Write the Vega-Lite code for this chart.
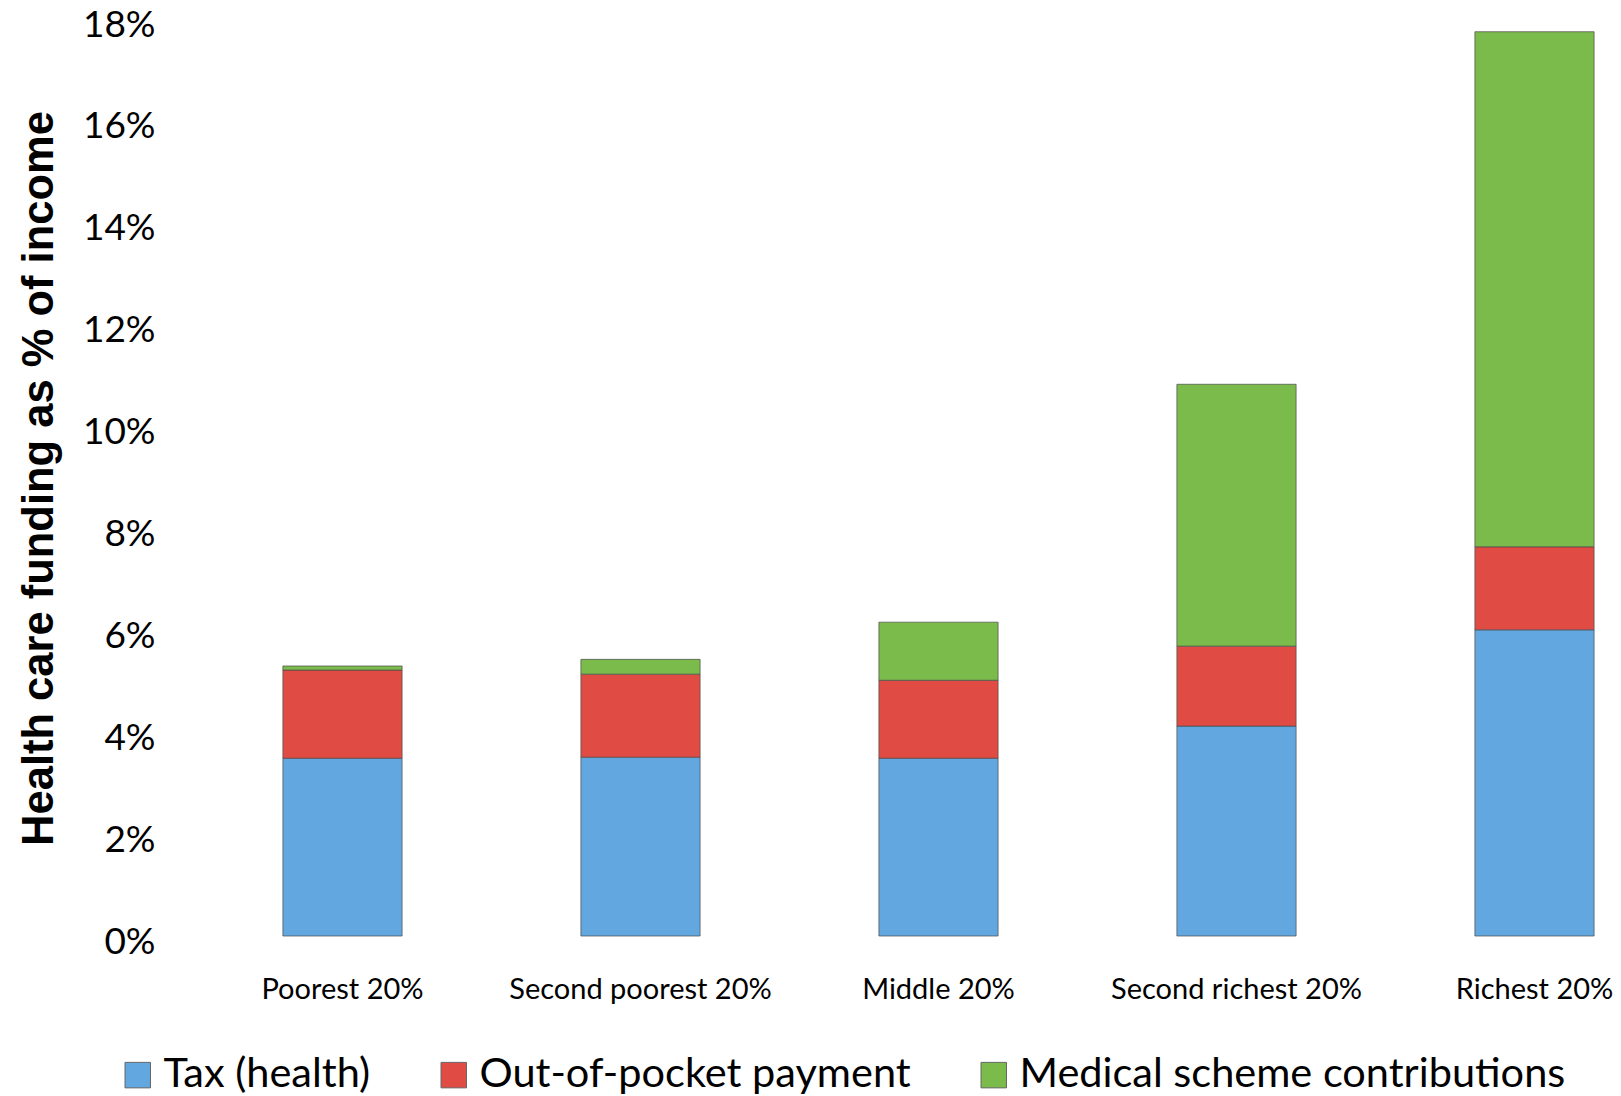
{
  "$schema": "https://vega.github.io/schema/vega-lite/v6.json",
  "width": 1341,
  "height": 917,
  "autosize": "none",
  "padding": {"left": 268, "top": 19, "right": 12, "bottom": 160},
  "background": "white",
  "data": {
    "values": [
      {"group": "Poorest 20%", "source": "Tax (health)", "order": 1, "value": 3.49},
      {"group": "Poorest 20%", "source": "Out-of-pocket payment", "order": 2, "value": 1.73},
      {"group": "Poorest 20%", "source": "Medical scheme contributions", "order": 3, "value": 0.08},
      {"group": "Second poorest 20%", "source": "Tax (health)", "order": 1, "value": 3.51},
      {"group": "Second poorest 20%", "source": "Out-of-pocket payment", "order": 2, "value": 1.63},
      {"group": "Second poorest 20%", "source": "Medical scheme contributions", "order": 3, "value": 0.29},
      {"group": "Middle 20%", "source": "Tax (health)", "order": 1, "value": 3.49},
      {"group": "Middle 20%", "source": "Out-of-pocket payment", "order": 2, "value": 1.53},
      {"group": "Middle 20%", "source": "Medical scheme contributions", "order": 3, "value": 1.14},
      {"group": "Second richest 20%", "source": "Tax (health)", "order": 1, "value": 4.12},
      {"group": "Second richest 20%", "source": "Out-of-pocket payment", "order": 2, "value": 1.57},
      {"group": "Second richest 20%", "source": "Medical scheme contributions", "order": 3, "value": 5.14},
      {"group": "Richest 20%", "source": "Tax (health)", "order": 1, "value": 6.01},
      {"group": "Richest 20%", "source": "Out-of-pocket payment", "order": 2, "value": 1.63},
      {"group": "Richest 20%", "source": "Medical scheme contributions", "order": 3, "value": 10.11}
    ]
  },
  "mark": {"type": "bar", "stroke": "#4a4a4a", "strokeWidth": 1, "strokeOpacity": 0.7},
  "encoding": {
    "x": {
      "field": "group",
      "type": "nominal",
      "sort": ["Poorest 20%", "Second poorest 20%", "Middle 20%", "Second richest 20%", "Richest 20%"],
      "scale": {"paddingInner": 0.6, "paddingOuter": 0.05},
      "axis": {
        "title": null,
        "labelAngle": 0,
        "ticks": false,
        "domain": false,
        "labelFont": "Lato",
        "labelFontSize": 29,
        "labelColor": "black",
        "labelBaseline": "middle",
        "labelPadding": 53,
        "labelLimit": 500
      }
    },
    "y": {
      "field": "value",
      "type": "quantitative",
      "stack": "zero",
      "scale": {"domain": [0, 18], "nice": false},
      "axis": {
        "title": "Health care funding as % of income",
        "values": [0, 2, 4, 6, 8, 10, 12, 14, 16, 18],
        "labelExpr": "datum.value + '%'",
        "grid": false,
        "ticks": false,
        "domain": false,
        "labelFont": "Lato",
        "labelFontSize": 37,
        "labelColor": "black",
        "labelPadding": 113,
        "labelOffset": 6,
        "titleFont": "Liberation Sans",
        "titleFontWeight": "bold",
        "titleFontSize": 43.5,
        "titleColor": "black",
        "titleAngle": -90,
        "titleBaseline": "alphabetic",
        "titleAlign": "center",
        "titleX": -216,
        "titleY": 459
      }
    },
    "color": {
      "field": "source",
      "type": "nominal",
      "scale": {
        "domain": ["Tax (health)", "Out-of-pocket payment", "Medical scheme contributions"],
        "range": ["#62a7df", "#e04c44", "#7bbb4b"]
      },
      "legend": {
        "title": null,
        "orient": "none",
        "direction": "horizontal",
        "legendX": -151,
        "legendY": 1035,
        "padding": 0,
        "symbolType": "square",
        "symbolSize": 650,
        "symbolStrokeColor": "#666666",
        "symbolStrokeWidth": 1,
        "labelFont": "Lato",
        "labelFontSize": 41.5,
        "labelColor": "black",
        "labelOffset": 5,
        "labelLimit": 800,
        "columnPadding": 62
      }
    },
    "order": {"field": "order", "type": "quantitative"}
  },
  "config": {"view": {"stroke": null}}
}
